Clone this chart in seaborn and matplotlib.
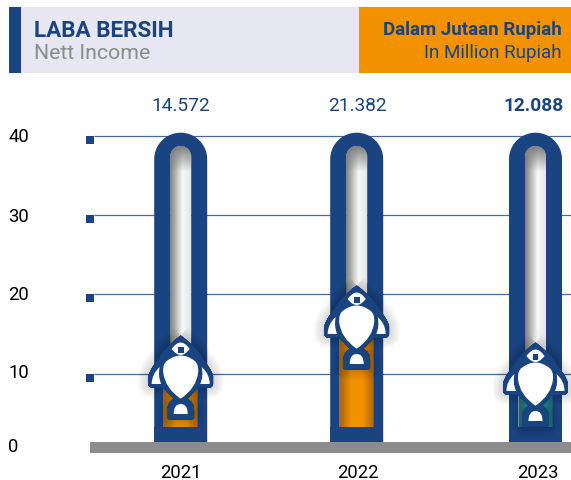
import matplotlib
matplotlib.use("Agg")
import matplotlib.pyplot as plt
import matplotlib.patheffects as pe
import numpy as np
import pandas as pd
import seaborn as sns
from matplotlib.colors import LinearSegmentedColormap
from matplotlib.patches import PathPatch, Rectangle
from matplotlib.path import Path
from matplotlib.transforms import ScaledTranslation

years = ["2021", "2022", "2023"]
net_income = [14.572, 21.382, 12.088]
value_labels = ["14.572", "21.382", "12.088"]
y_ticks = [0, 10, 20, 30, 40]

NAVY = "#1a4480"
ORANGE = "#f39200"
GREY = "#8c8c8c"

# layout, in pixels of the 571x481 picture
tube_x = [180.7, 356.7, 535.5]
year_x = [181, 357.5, 537.5]
fish_top = [336, 286, 343]
tick_nudge = [9, 3.5, 2, 1, 1.5]  # the printed numbers do not sit exactly on their lines
zero_px = 453
px_per_unit = 7.93
bar_colors = [("#a9690f", ORANGE), ("#a9690f", ORANGE), ("#1d7478", "#21a195")]


def py(px):
    return (zero_px - np.asarray(px, dtype=float)) / px_per_unit


def to_data(points, dx=0, dy=0):
    points = np.asarray(points, dtype=float)
    return np.column_stack([points[:, 0] + dx, py(points[:, 1] + dy)])


def arch(cx, cy, r):
    angles = np.linspace(np.pi, 0, 40)
    return np.column_stack([cx + r * np.cos(angles), cy - r * np.sin(angles)])


def curved(points, dx, dy):
    # every point after the first is a (control, on-curve) pair
    verts = [points[0]]
    codes = [Path.MOVETO]
    for ctrl, end in zip(points[1::2], points[2::2]):
        verts += [ctrl, end]
        codes += [Path.CURVE3, Path.CURVE3]
    return Path(to_data(verts, dx, dy), codes)


sns.set_theme(style="white")
plt.rcParams["font.family"] = ["Roboto", "DejaVu Sans"]

fig = plt.figure(figsize=(5.71, 4.81), dpi=100)
ax = fig.add_axes([0, 0, 1, 1])

# ----------------------------------------
# Bars
# ----------------------------------------
df = pd.DataFrame({"x": tube_x, "income": net_income})
sns.barplot(data=df, x="x", y="income", native_scale=True, width=34 / 176,
            color=ORANGE, saturation=1, ax=ax, zorder=3)

for bar, (edge, mid) in zip(ax.patches, bar_colors):
    cmap = LinearSegmentedColormap.from_list("fill", [edge, mid, mid, edge])
    x0, x1 = bar.get_x(), bar.get_x() + bar.get_width()
    img = ax.imshow(np.linspace(0, 1, 64).reshape(1, -1), cmap=cmap, aspect="auto",
                    extent=(x0, x1, 0, bar.get_height()), zorder=3.5)
    img.set_clip_path(bar)

# ----------------------------------------
# Tubes
# ----------------------------------------
side = np.interp(np.linspace(0, 1, 64), [0, 0.6, 1], [0.50, 0.97, 0.90])
top_fade = np.clip(np.linspace(0, 1, 300) / 0.09, 0, 1)
shade = np.outer(1 - top_fade, np.full(64, 0.5)) + np.outer(top_fade, side)

for cx, top in zip(tube_x, fish_top):
    step = top + 30
    left = [[cx - 26.5, 442]] + arch(cx, 159.2, 26.5).tolist() + [[cx + 26.5, 442]]
    hole = ([[cx - 17, 427], [cx - 17, step], [cx - 10.5, step]]
            + arch(cx, 156.5, 10.5).tolist()
            + [[cx + 10.5, step], [cx + 17, step], [cx + 17, 427]])
    upper = [[cx - 10.5, step]] + arch(cx, 156.5, 10.5).tolist() + [[cx + 10.5, step]]

    clip = PathPatch(Path(to_data(upper)), transform=ax.transData, fc="none", ec="none")
    ax.add_patch(clip)
    # sits above the bar so the fill only shows below the fish
    img = ax.imshow(shade, cmap="gray", vmin=0, vmax=1, aspect="auto", origin="upper",
                    extent=(cx - 10.5, cx + 10.5, py(427), py(146)), zorder=3.8)
    img.set_clip_path(clip)

    outer = to_data(left)
    inner = to_data(hole)[::-1]
    verts = np.vstack([outer, outer[:1], inner, inner[:1]])
    codes = ([Path.MOVETO] + [Path.LINETO] * (len(outer) - 1) + [Path.CLOSEPOLY]
             + [Path.MOVETO] + [Path.LINETO] * (len(inner) - 1) + [Path.CLOSEPOLY])
    ax.add_patch(PathPatch(Path(verts, codes), fc=NAVY, ec="none", zorder=4))
    ax.add_patch(Rectangle((cx - 26.5, py(442)), 53, py(427) - py(442), fc=NAVY, ec="none", zorder=4))

# ----------------------------------------
# Fish
# ----------------------------------------
body_outline = [(0, 0), (10, 7), (18, 17), (20, 20), (22, 24), (29, 31), (32, 40), (32, 44), (32, 48),
                (32, 51), (29, 51), (24, 51), (18, 51), (12, 57), (6, 63), (13, 66), (13, 74), (13, 78),
                (13, 81), (13, 83), (11, 83), (0, 83), (-11, 83), (-13, 83), (-13, 81), (-13, 78),
                (-13, 74), (-13, 66), (-6, 63), (-12, 57), (-18, 51), (-24, 51), (-29, 51), (-32, 51),
                (-32, 48), (-32, 44), (-32, 40), (-29, 31), (-22, 24), (-20, 20), (-18, 17), (-10, 7), (0, 0)]
body_white = [(0, 62.7), (16, 52), (17.5, 36), (18, 28), (14, 25), (7, 19.5), (0, 19.5),
              (-7, 19.5), (-14, 25), (-18, 28), (-17.5, 36), (-16, 52), (0, 62.7)]
head_white = [(-9, 13), (0, 0), (9, 13), (0, 25), (-9, 13)]
tail_white = [(-7, 78), (-7, 68), (0, 68), (7, 68), (7, 78), (0, 78), (-7, 78)]
fin_right = [(21, 31), (29, 38), (29, 48), (24, 48), (19.5, 48), (23, 40), (21, 31)]
fin_left = [(-x, y) for x, y in fin_right]
pupil = [(-2.8, 11.3), (2.8, 11.3), (2.8, 17), (-2.8, 17), (-2.8, 11.3)]

shadow = [pe.withStroke(linewidth=w, foreground="black", alpha=0.02) for w in (16, 14, 12, 10, 8, 6, 4, 2)]

for cx, top in zip(tube_x, fish_top):
    fish = PathPatch(curved(body_outline, cx, top), fc=NAVY, ec=NAVY, lw=0.5, zorder=6)
    fish.set_path_effects(shadow + [pe.Normal()])
    ax.add_patch(fish)
    for shape in (body_white, head_white, tail_white, fin_right, fin_left):
        ax.add_patch(PathPatch(curved(shape, cx, top), fc="white", ec="none", zorder=7))
    ax.add_patch(PathPatch(Path(to_data(pupil, cx, top)), fc=NAVY, ec="none", zorder=8))

# ----------------------------------------
# Grid, baseline and axes
# ----------------------------------------
ax.hlines(y_ticks[1:], 94, 571, color="#4a6b9e", lw=0.9, zorder=1)
for tick in y_ticks[1:]:
    ax.add_patch(Rectangle((86, tick - 8 / px_per_unit), 8, 8 / px_per_unit, fc=NAVY, ec="none", zorder=1))
ax.add_patch(Rectangle((90, 0), 481, py(442), fc=GREY, ec="none", zorder=5))

ax.set_xlim(0, 571)
ax.set_ylim(py(480), py(-1))
ax.set_xlabel("")
ax.set_ylabel("")
ax.set_xticks(year_x, years)
ax.set_yticks(y_ticks, [str(t) for t in y_ticks])
ax.tick_params(axis="both", length=0, labelsize=13.3, labelcolor="black")
ax.tick_params(axis="x", pad=-12.5)
ax.tick_params(axis="y", pad=-6)
for label, nudge in zip(ax.get_yticklabels(), tick_nudge):
    label.set_ha("left")
    label.set_transform(label.get_transform() + ScaledTranslation(0, nudge / 100, fig.dpi_scale_trans))
sns.despine(ax=ax, left=True, bottom=True)

for cx, text, weight in zip([181, 357, 534], value_labels, ["normal", "normal", "bold"]):
    ax.text(cx, py(105), text, ha="center", va="center", fontsize=13.8, color=NAVY, fontweight=weight)

# ----------------------------------------
# Header
# ----------------------------------------
head_y, head_h = py(73), py(7) - py(73)
ax.add_patch(Rectangle((9, head_y), 12, head_h, fc=NAVY, ec="none"))
ax.add_patch(Rectangle((21, head_y), 338, head_h, fc="#e6e7f1", ec="none"))
ax.add_patch(Rectangle((359, head_y), 212, head_h, fc=ORANGE, ec="none"))
ax.text(34, py(30), "LABA BERSIH", fontsize=16.2, fontweight="bold", color=NAVY, va="center")
ax.text(34, py(53), "Nett Income", fontsize=15.3, color=GREY, va="center")
ax.text(562, py(29.5), "Dalam Jutaan Rupiah", fontsize=13.5, fontweight="bold", color=NAVY, ha="right", va="center")
ax.text(562, py(52), "In Million Rupiah", fontsize=13.5, color=NAVY, ha="right", va="center")

fig.savefig("out.png", dpi=100)
